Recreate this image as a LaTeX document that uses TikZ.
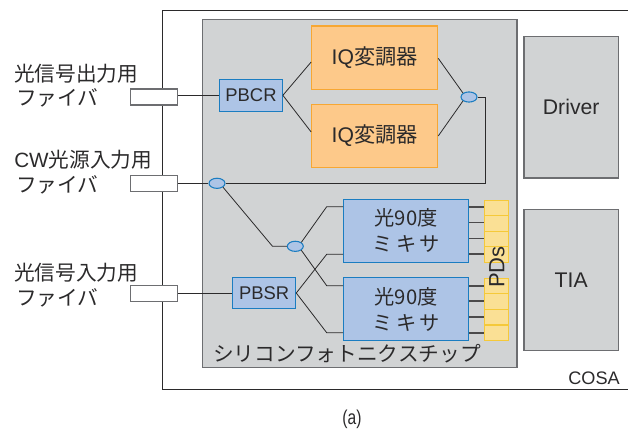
\documentclass[tikz,border=0pt]{standalone}
\usepackage{fontspec}
\setmainfont{Liberation Sans}
\newfontfamily\cjk{Noto Sans CJK JP}
\definecolor{ink}{HTML}{2B2A2B}
\definecolor{chipfill}{HTML}{D1D3D4}
\definecolor{chipline}{HTML}{6D6E71}
\definecolor{orfill}{HTML}{FDC98A}
\definecolor{orline}{HTML}{F7A733}
\definecolor{blfill}{HTML}{ADC4E6}
\definecolor{blline}{HTML}{1B7DC1}
\definecolor{pdfill}{HTML}{FAE095}
\definecolor{pdline}{HTML}{F5C93A}
\usetikzlibrary{shapes.geometric}
\begin{document}
\begin{tikzpicture}[x=0.75pt,y=-0.75pt,
  box/.style={minimum width=0pt,minimum height=0pt,inner sep=0pt,text=ink,font=\fontsize{13.8pt}{17pt}\selectfont,align=center},
  bigbox/.style={box,font=\fontsize{15.9pt}{18pt}\selectfont},
  chipbox/.style={draw=chipline,fill=chipfill,line width=1pt},
  iqbox/.style={bigbox,draw=orline,fill=orfill,line width=0.8pt,minimum width=94.5pt,minimum height=47.3pt},
  blbox/.style={box,draw=blline,fill=blfill,line width=0.8pt},
  mixbox/.style={blbox,minimum width=94pt,minimum height=47.4pt,font=\fontsize{15.2pt}{19.5pt}\selectfont\cjk},
  pdcell/.style={draw=pdline,fill=pdfill,line width=0.7pt,minimum width=18.3pt,minimum height=11.7pt,inner sep=0pt},
  fiber/.style={draw=chipline,fill=white,line width=0.8pt,minimum width=35.6pt,minimum height=12pt,inner sep=0pt},
  split/.style={ellipse,draw=blline,fill=blfill,line width=0.8pt,minimum width=12pt,minimum height=7.6pt,inner sep=0pt},
  wire/.style={draw=ink,line width=0.6pt},
  lab/.style={text=ink,font=\fontsize{15.5pt}{18pt}\selectfont\cjk,inner sep=0pt},
]
\useasboundingbox (0,0) rectangle (628,429);
% COSA package
\coordinate (cosaA) at (628,10.5);
\coordinate (cosaB) at (162.5,10.5);
\coordinate (cosaC) at (162.5,389.5);
\coordinate (cosaD) at (628,389.5);
\draw[draw=ink,line width=0.9pt] (cosaA) -- (cosaB) -- (cosaC) -- (cosaD);
% chip
\node[chipbox,minimum width=236pt,minimum height=261pt,inner sep=0pt,anchor=north west] (chip) at (201.7,19) {};
% driver, TIA
\node[bigbox,chipbox,minimum width=71pt,minimum height=106pt] (driver) at (571.2,107.3) {Driver};
\node[bigbox,chipbox,minimum width=71pt,minimum height=106pt] (tia) at (571.2,280) {TIA};
% fibers
\node[fiber] (f1) at (154.2,97) {};
\node[fiber] (f2) at (154.2,183.3) {};
\node[fiber] (f3) at (154.2,293.5) {};
% modulators
\node[iqbox] (iq1) at (374.7,57.5) {IQ{\cjk 変調器}};
\node[iqbox] (iq2) at (374.7,136) {IQ{\cjk 変調器}};
\node[blbox,minimum width=47pt,minimum height=23.6pt] (pbcr) at (251,95.3) {PBCR};
\node[blbox,minimum width=47.3pt,minimum height=23.6pt] (pbsr) at (264.2,293) {PBSR};
\node[mixbox] (m1) at (406.2,230.7) {光90度\\ミ\,キ\,サ};
\node[mixbox] (m2) at (406.2,309.2) {光90度\\ミ\,キ\,サ};
% splitters
\node[split] (s1) at (469,97) {};
\node[split] (s2) at (217,183.3) {};
\node[split] (s3) at (295.3,246.3) {};
% PD cells
\foreach \n/\y in {a/208,b/223.5,c/239,d/254.5,e/286,f/301.5,g/317,h/333}{
  \node[pdcell] (pd\n) at (496.5,\y) {};
}
% bends
\coordinate (b1) at (485.7,97);
\coordinate (b2) at (485.7,183.3);
\coordinate (b3) at (272.5,246.3);
\coordinate (b4) at (326.7,206.7);
\coordinate (b5) at (326.7,285.7);
\coordinate (b6) at (326.7,254.3);
\coordinate (b7) at (326.7,332.7);
% wires
\draw[wire] (f1.east |- pbcr.west) -- (pbcr.west);
\draw[wire] (pbcr.east) -- (iq1.west |- 0,62);
\draw[wire] (pbcr.east) -- (iq2.west |- 0,132);
\draw[wire] (iq1.east |- 0,58.3) -- (s1.north west);
\draw[wire] (iq2.east |- 0,136) -- (s1.south west);
\draw[wire] (s1.east) -- (b1) -- (b2) -- (s2.east);
\draw[wire] (f2.east) -- (s2.west);
\draw[wire] (s2.south east) -- (b3) -- (s3.west);
\draw[wire] (s3.north east) -- (b4) -- (m1.west |- b4);
\draw[wire] (s3.south east) -- (b5) -- (m2.west |- b5);
\draw[wire] (f3.east |- pbsr.west) -- (pbsr.west);
\draw[wire] (pbsr.east) -- (b6) -- (m1.west |- b6);
\draw[wire] (pbsr.east) -- (b7) -- (m2.west |- b7);
\foreach \n/\m/\y in {a/m1/207,b/m1/222.7,c/m1/238.5,d/m1/254,e/m2/286,f/m2/301,g/m2/317,h/m2/333}{
  \coordinate (t\n) at (496.5,\y);
  \draw[wire,line width=0.8pt,draw=ink!85] (\m.east |- t\n) -- (pd\n.west |- t\n);
}
% labels
\node[box,rotate=90,font=\fontsize{16.5pt}{18pt}\selectfont] (pds) at (497,267) {PDs};
\node[lab,anchor=west] (chiplab) at (213,354) {シリコンフォトニクスチップ};
\node[lab,anchor=west] (l1a) at (14,73.5) {光信号出力用};
\node[lab,anchor=west] (l1b) at (16,98) {ファイバ};
\node[lab,anchor=west] (l2a) at (14,160) {{\rmfamily\fontsize{15.5pt}{18pt}\selectfont CW}光源入力用};
\node[lab,anchor=west] (l2b) at (16,185) {ファイバ};
\node[lab,anchor=west] (l3a) at (14,273) {光信号入力用};
\node[lab,anchor=west] (l3b) at (16,298) {ファイバ};
\node[text=ink,font=\fontsize{13.6pt}{16pt}\selectfont,inner sep=0pt] (cosa) at (594,378) {COSA};
\node[text=ink,font=\fontsize{15pt}{18pt}\selectfont,inner sep=0pt] (cap) at (352,419) {\scalebox{0.78}[1]{(a)}};
\end{tikzpicture}
\end{document}
